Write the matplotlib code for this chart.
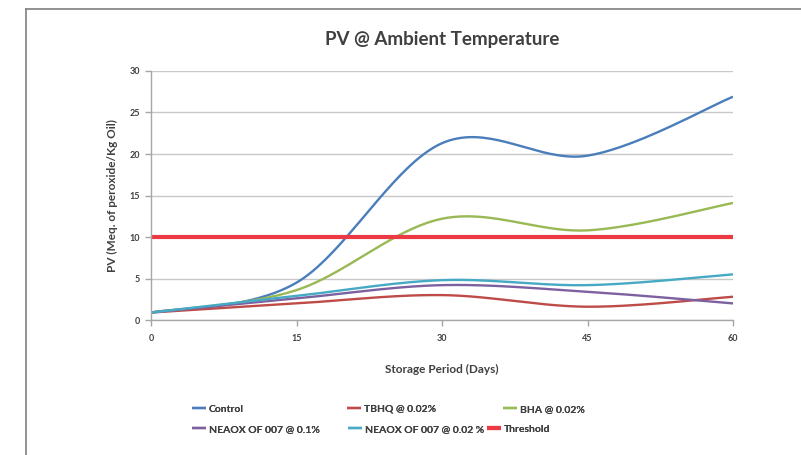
import numpy as np
import matplotlib
matplotlib.use('Agg')
import matplotlib.pyplot as plt
from matplotlib.lines import Line2D

# ---- data ----
days = [0, 15, 30, 45, 60]
control = [0.9, 4.5, 21.3, 19.8, 26.9]
tbhq = [0.9, 2.0, 3.0, 1.6, 2.8]
bha = [0.9, 3.6, 12.2, 10.8, 14.1]
neaox_01 = [0.9, 2.6, 4.2, 3.4, 2.0]
neaox_002 = [0.9, 2.9, 4.8, 4.2, 5.5]
threshold = [10, 10, 10, 10, 10]

series_names = ["Control", "TBHQ @ 0.02%", "BHA @ 0.02%",
                "NEAOX OF 007 @ 0.1%", "NEAOX OF 007 @ 0.02 %", "Threshold"]
x_ticks = [0, 15, 30, 45, 60]
y_ticks = [0, 5, 10, 15, 20, 25, 30]

plt.rcParams['font.family'] = ['Lato', 'DejaVu Sans']


def smooth(x, y, n=40):
    """Excel-like smoothed line (Catmull-Rom via cubic Bezier)."""
    P = np.column_stack([np.asarray(x, float), np.asarray(y, float)])
    t = np.linspace(0, 1, n)[:, None]
    out = []
    for i in range(len(P) - 1):
        p0, p3 = P[i], P[i + 1]
        pm = P[i - 1] if i > 0 else P[i]
        pp = P[i + 2] if i + 2 < len(P) else P[i + 1]
        c1 = p0 + (p3 - pm) / 6.0
        c2 = p3 - (pp - p0) / 6.0
        B = ((1 - t) ** 3) * p0 + 3 * ((1 - t) ** 2) * t * c1 + 3 * (1 - t) * t ** 2 * c2 + t ** 3 * p3
        out.append(B if i == 0 else B[1:])
    B = np.vstack(out)
    return B[:, 0], B[:, 1]


W, H = 801, 455
fig = plt.figure(figsize=(W / 100, H / 100), dpi=100)
fig.patch.set_facecolor('white')

# outer chart frame (left + top edges visible)
fig.add_artist(Line2D([26 / W, 26 / W], [0, 1 - 9 / H], transform=fig.transFigure,
                      color='#7f7f7f', lw=1.2))
fig.add_artist(Line2D([26 / W, 1], [1 - 9 / H, 1 - 9 / H], transform=fig.transFigure,
                      color='#7f7f7f', lw=1.2))

left, right, bottom, top = 151 / W, 733 / W, 1 - 320 / H, 1 - 71 / H
ax = fig.add_axes([left, bottom, right - left, top - bottom])

colors = ['#4A7EBB', '#BE4B48', '#98B954', '#7D60A0', '#46AAC5', '#EC3A44']
data = [control, tbhq, bha, neaox_01, neaox_002, threshold]
handles = []
for name, vals, c in zip(series_names, data, colors):
    lw = 3.0 if name == "Threshold" else 1.7
    if name == "Threshold":
        xs, ys = days, vals
    else:
        xs, ys = smooth(days, vals)
    h, = ax.plot(xs, ys, color=c, lw=lw, label=name, solid_capstyle='butt')
    handles.append(h)

ax.set_xlim(0, 60)
ax.set_ylim(0, 30)
ax.set_xticks(x_ticks)
ax.set_yticks(y_ticks)
ax.grid(axis='y', color='#c8c8c8', lw=1)
ax.set_axisbelow(True)
for s in ['top', 'right']:
    ax.spines[s].set_visible(False)
for s in ['left', 'bottom']:
    ax.spines[s].set_color('#a6a6a6')
    ax.spines[s].set_linewidth(1)
ax.tick_params(axis='both', colors='#a6a6a6', labelcolor='#404040', labelsize=6.5, length=4, width=1)
ax.tick_params(axis='x', pad=6)
ax.tick_params(axis='y', pad=4)
for lab in ax.get_xticklabels() + ax.get_yticklabels():
    lab.set_fontweight('bold')

ax.set_xlabel("Storage Period (Days)", fontsize=8.5, fontweight='bold', color='#404040', labelpad=15)
ax.set_ylabel("PV (Meq. of peroxide/Kg Oil)", fontsize=8.5, fontweight='bold', color='#404040', labelpad=8)
fig.text(442 / W, 1 - 40 / H, "PV @ Ambient Temperature", ha='center', va='center',
         fontsize=13.5, fontweight='bold', color='#404040')

# legend entries placed like Excel's flowing legend
legend_pos = [(192, 409), (347, 409), (503, 409), (192, 429), (348, 429), (487, 429)]
for h, (px, py) in zip(handles, legend_pos):
    lg = fig.legend(handles=[h], labels=[h.get_label()], loc='center left',
                    bbox_to_anchor=(px / W, 1 - py / H), bbox_transform=fig.transFigure,
                    frameon=False, borderpad=0, borderaxespad=0, fontsize=7.5,
                    handlelength=1.3, handletextpad=0.3, labelcolor='#404040')
    for t in lg.get_texts():
        t.set_fontweight('bold')
    fig.add_artist(lg)

fig.savefig('out.png', dpi=100, facecolor='white')
